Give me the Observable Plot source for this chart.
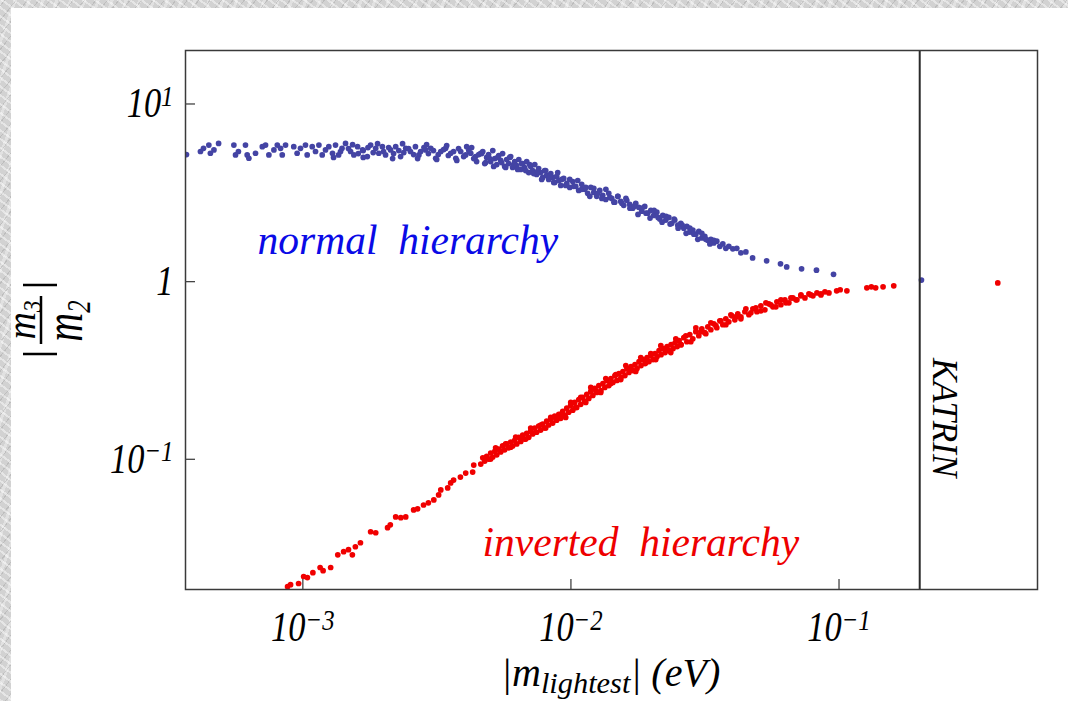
<!DOCTYPE html>
<html><head><meta charset="utf-8">
<script src="https://cdn.jsdelivr.net/npm/d3@7"></script>
<script src="https://cdn.jsdelivr.net/npm/@observablehq/plot@0.6"></script>
<style>
html,body{margin:0;padding:0;width:1068px;height:701px;overflow:hidden;}
body{background-color:#d2d2d2;
 background-image:
  repeating-linear-gradient(37deg, rgba(255,255,255,0.45) 0 2px, rgba(255,255,255,0) 2px 7px),
  repeating-linear-gradient(-52deg, rgba(150,150,150,0.35) 0 1px, rgba(0,0,0,0) 1px 9px),
  repeating-linear-gradient(110deg, rgba(240,240,240,0.5) 0 3px, rgba(0,0,0,0) 3px 13px);}
#panel{position:absolute;left:11px;top:8px;width:1057px;height:693px;background:#fff;overflow:hidden;}
#panel svg{position:absolute;left:-11px;top:-8px;max-width:none !important;width:1068px;height:701px;}
svg text{white-space:pre;}
</style></head>
<body><div id="panel"></div>
<script>
// ---- data: [|m_lightest| (eV), |m3/m2|] ----
const normalHierarchy = [
[3.68e-4,5.19],
[4.15e-4,5.40],[4.26e-4,5.63],[4.46e-4,5.87],[4.52e-4,5.28],[4.66e-4,5.51],[4.85e-4,6.00],
[5.53e-4,5.87],[5.61e-4,5.17],[5.75e-4,5.40],[6.11e-4,5.87],[6.20e-4,5.17],[6.29e-4,4.95],
[6.66e-4,5.28],[7.06e-4,5.75],[7.26e-4,5.87],[7.47e-4,5.17],[7.80e-4,5.51],[8.03e-4,5.87],
[8.26e-4,5.63],[8.38e-4,5.17],[8.62e-4,5.87],[9.25e-4,5.75],[9.52e-4,5.28],[9.80e-4,5.63],
[1.023e-3,5.87],[1.038e-3,5.17],[1.084e-3,5.75],[1.115e-3,5.40],[1.148e-3,5.87],[1.181e-3,5.17],
[1.215e-3,5.51],[1.25e-3,5.75],[1.29e-3,5.28],[1.324e-3,5.87],[1.36e-3,5.17],[1.40e-3,5.63],
[1.443e-3,6.00],[1.507e-3,5.40],[1.55e-3,5.17],[1.60e-3,5.75],[1.67e-3,5.51],[1.74e-3,5.06],
[1.79e-3,5.87],[1.87e-3,5.63],[1.92e-3,5.28],[1.98e-3,5.75],[2.035e-3,5.17],[2.125e-3,5.51],
[2.22e-3,5.75],[2.315e-3,5.06],[2.42e-3,5.63],[2.52e-3,5.40],[2.63e-3,5.75],[2.71e-3,5.17],
[2.87e-3,5.51],[3.00e-3,5.63],[3.13e-3,4.95],[3.27e-3,5.40],[3.41e-3,5.63],[3.56e-3,5.28],
[3.72e-3,4.95],[3.88e-3,5.40],[4.05e-3,5.17],[4.23e-3,5.28],[4.41e-3,5.06],[4.61e-3,5.28],
[1.382e-3,5.40],[1.48e-3,5.61],[1.61e-3,5.26],[1.68e-3,5.47],[1.75e-3,5.68],[1.83e-3,5.33],
[2.00e-3,5.40],[2.09e-3,5.68],[2.18e-3,5.26],[2.28e-3,5.47],[2.38e-3,5.33],[2.48e-3,5.61],
[2.59e-3,5.19],[2.75e-3,5.40],[2.83e-3,5.68],[2.94e-3,5.26],[3.07e-3,5.47],[3.20e-3,5.19],
[3.35e-3,5.54],[3.49e-3,5.13],[3.65e-3,5.40],[3.81e-3,5.61],[3.98e-3,5.06],[4.16e-3,5.47],
[4.34e-3,4.93],[4.53e-3,5.19],
[1.302e-3,5.00],[1.533e-3,5.90],[1.68e-3,5.00],[1.900e-3,5.98],[2.162e-3,4.93],[2.355e-3,5.98],
[2.68e-3,4.93],[2.895e-3,5.90],[3.157e-3,4.87],[3.44e-3,5.83],[3.752e-3,4.81],[4.085e-3,5.75],
[4.448e-3,4.74],[4.262e-3,5.68],
[4.69e-3,5.40],[4.77e-3,4.62],[4.85e-3,5.00],[4.93e-3,5.19],[5.02e-3,4.74],[5.11e-3,5.47],
[5.20e-3,4.93],[5.29e-3,4.56],[5.38e-3,5.13],[5.47e-3,4.81],[5.56e-3,5.26],[5.66e-3,4.45],
[5.76e-3,4.87],[5.86e-3,4.62],[5.96e-3,5.06],[6.06e-3,4.39],[6.17e-3,4.74],[6.28e-3,4.50],
[6.39e-3,4.87],[6.50e-3,4.28],[6.61e-3,4.62],[6.72e-3,4.39],[6.84e-3,4.74],[6.96e-3,4.11],
[7.08e-3,4.45],[7.20e-3,4.22],[7.33e-3,4.56],[7.45e-3,4.01],[7.58e-3,4.33],[7.71e-3,4.11],
[7.85e-3,3.86],[7.98e-3,4.22],[8.12e-3,3.96],[8.26e-3,3.76],[8.41e-3,4.06],[8.55e-3,3.86],
[8.70e-3,3.62],[8.85e-3,3.91],[9.01e-3,3.71],[9.16e-3,3.48],[9.40e-3,3.81],[9.65e-3,3.57],
[9.90e-3,3.39],[1.016e-2,3.66],[1.042e-2,3.44],[1.069e-2,3.26],[1.097e-2,3.53],[1.126e-2,3.31],
[1.155e-2,3.14],[1.186e-2,3.39],[1.217e-2,3.18],[1.248e-2,3.02],[1.281e-2,3.26],[1.314e-2,3.06],
[1.349e-2,2.90],[1.384e-2,3.14],[1.420e-2,2.94],[1.457e-2,2.80],[1.495e-2,3.02],[1.534e-2,2.83],
[1.574e-2,2.69],[1.615e-2,2.87],[1.657e-2,2.72],[1.700e-2,2.59],[1.745e-2,2.76],[1.790e-2,2.62],
[1.837e-2,2.49],[1.885e-2,2.65],[1.934e-2,2.43],[1.986e-2,2.52],[2.037e-2,2.36],[2.091e-2,2.46],
[2.145e-2,2.25],[2.201e-2,2.36],[2.259e-2,2.22],[2.318e-2,2.30],[2.378e-2,2.13],[2.440e-2,2.22],
[2.504e-2,2.08],[2.570e-2,2.13],[2.637e-2,2.00],[2.706e-2,2.05],[2.776e-2,1.90],[2.849e-2,1.95],
[2.923e-2,1.85],[2.999e-2,1.92],[3.078e-2,1.76],[3.158e-2,1.80],[3.240e-2,1.71],[3.326e-2,1.73],
[3.412e-2,1.65],[3.501e-2,1.69],[3.593e-2,1.58],[3.686e-2,1.63],[3.783e-2,1.54],[3.881e-2,1.58],
[4.016e-2,1.53],[4.156e-2,1.54],[4.305e-2,1.45],[4.493e-2,1.47],
[4.645e-3,5.26],[4.807e-3,4.68],[4.977e-3,4.93],[5.150e-3,4.45],[5.331e-3,5.00],[5.516e-3,4.68],
[5.710e-3,4.39],[5.910e-3,5.00],[6.116e-3,4.56],[6.330e-3,4.28],[6.551e-3,4.62],[6.781e-3,4.22],
[7.018e-3,4.56],[7.263e-3,4.06],[7.518e-3,4.17],[7.780e-3,3.76],[8.053e-3,4.22],[8.335e-3,3.91],
[8.626e-3,3.62],[8.928e-3,4.11],[9.239e-3,3.76],[9.564e-3,3.48],[9.898e-3,3.76],[1.0245e-2,3.44],
[1.0604e-2,3.71],[1.0976e-2,3.31],[1.1361e-2,3.39],[1.1760e-2,3.02],[1.2172e-2,3.35],[1.260e-2,3.14],
[1.3042e-2,2.94],[1.350e-2,3.31],[1.3974e-2,2.98],[1.4464e-2,2.80],[1.4968e-2,3.02],[1.5493e-2,2.76],
[1.6037e-2,2.94],[1.660e-2,2.59],[1.7187e-2,2.65],[1.7792e-2,2.39],[1.8418e-2,2.59],[1.9063e-2,2.43],
[1.9729e-2,2.28],[2.0425e-2,2.52],[2.114e-2,2.30],[2.188e-2,2.16],[2.264e-2,2.33],[2.344e-2,2.11],
[2.426e-2,2.25],[2.511e-2,2.00],[2.599e-2,2.08],[2.690e-2,1.87],[2.776e-2,2.00],[2.874e-2,1.85],
[2.973e-2,1.73],[3.078e-2,1.87],[3.185e-2,1.73],[3.298e-2,1.63],[3.412e-2,1.71],
[4.76e-2,1.36],[5.37e-2,1.31],[6.05e-2,1.26],[6.38e-2,1.21],[7.25e-2,1.18],[8.24e-2,1.16],
[9.54e-2,1.10],[0.203,1.02]
];

const invertedHierarchy = [
[8.77e-4,0.0192],[9.00e-4,0.0197],[9.64e-4,0.0200],[1.007e-3,0.0219],[1.04e-3,0.0216],[1.09e-3,0.0230],
[1.16e-3,0.0246],[1.19e-3,0.0236],[1.27e-3,0.0246],[1.35e-3,0.0290],[1.42e-3,0.0302],[1.48e-3,0.0310],
[1.53e-3,0.0290],[1.57e-3,0.0322],[1.64e-3,0.0339],[1.79e-3,0.0391],[1.87e-3,0.0386],[2.07e-3,0.0412],
[2.12e-3,0.0428],[2.22e-3,0.0474],[2.32e-3,0.0469],[2.42e-3,0.0474],[2.59e-3,0.0519],[2.68e-3,0.0526],
[2.82e-3,0.0553],[2.94e-3,0.0569],[3.08e-3,0.0591],[3.21e-3,0.0630],[3.27e-3,0.0672],[3.47e-3,0.0690],
[3.56e-3,0.0736],[3.65e-3,0.0764],[3.87e-3,0.0794],[4.05e-3,0.0837],[4.30e-3,0.0848],[4.34e-3,0.0928],
[4.61e-3,0.0940],[4.69e-3,0.102],[4.77e-3,0.0977],[4.85e-3,0.104],[4.93e-3,0.1003],[5.02e-3,0.1085],
[5.11e-3,0.103],[5.20e-3,0.111],[5.29e-3,0.106],[5.38e-3,0.114],[5.47e-3,0.110],[5.56e-3,0.119],
[5.66e-3,0.113],[5.76e-3,0.122],[5.86e-3,0.116],[5.96e-3,0.125],[6.06e-3,0.119],[6.17e-3,0.128],
[6.28e-3,0.122],[6.39e-3,0.133],[6.50e-3,0.126],[6.61e-3,0.137],[6.72e-3,0.130],[6.84e-3,0.140],
[6.96e-3,0.133],[7.08e-3,0.144],[7.20e-3,0.139],[7.33e-3,0.150],[7.45e-3,0.142],[7.58e-3,0.154],
[7.71e-3,0.146],[7.85e-3,0.158],[7.98e-3,0.150],[8.12e-3,0.164],[8.26e-3,0.156],[8.41e-3,0.168],
[8.55e-3,0.160],[8.70e-3,0.175],[8.85e-3,0.166],[9.01e-3,0.179],[9.16e-3,0.170],[9.32e-3,0.186],
[9.48e-3,0.177],[9.65e-3,0.194],[9.81e-3,0.184],[9.98e-3,0.201],[1.016e-2,0.189],[1.033e-2,0.209],
[1.051e-2,0.196],[1.070e-2,0.217],[1.088e-2,0.204],[1.107e-2,0.223],[1.126e-2,0.212],[1.146e-2,0.232],
[1.166e-2,0.220],[1.186e-2,0.241],[1.207e-2,0.229],[1.228e-2,0.251],[1.249e-2,0.238],[1.271e-2,0.260],
[1.293e-2,0.244],[1.316e-2,0.267],[1.338e-2,0.254],[1.362e-2,0.278],[1.385e-2,0.260],[1.410e-2,0.285],
[1.434e-2,0.271],[1.459e-2,0.296],[1.484e-2,0.278],[1.510e-2,0.304],[1.536e-2,0.289],[1.563e-2,0.312],
[1.590e-2,0.296],[1.618e-2,0.324],[1.646e-2,0.308],[1.675e-2,0.333],[1.704e-2,0.316],[1.734e-2,0.341],
[1.764e-2,0.324],[1.795e-2,0.355],[1.826e-2,0.337],[1.858e-2,0.364],[1.890e-2,0.346],[1.923e-2,0.374],
[1.956e-2,0.355],[1.990e-2,0.383],[2.025e-2,0.364],[2.060e-2,0.394],[2.096e-2,0.379],[2.132e-2,0.409],
[2.169e-2,0.388],[2.207e-2,0.420],[2.245e-2,0.399],[2.284e-2,0.431],[2.324e-2,0.409],[2.364e-2,0.442],
[2.405e-2,0.420],[2.447e-2,0.453],[2.490e-2,0.431],[2.533e-2,0.465],[2.577e-2,0.442],[2.637e-2,0.484],
[2.706e-2,0.459],[2.776e-2,0.503],[2.849e-2,0.477],[2.923e-2,0.523],[2.999e-2,0.496],[3.078e-2,0.543],
[3.158e-2,0.516],[3.240e-2,0.557],[3.326e-2,0.536],[3.412e-2,0.579],[3.501e-2,0.550],[3.593e-2,0.602],
[3.686e-2,0.572],[3.783e-2,0.618],[3.881e-2,0.594],[3.983e-2,0.642],[4.087e-2,0.610],[4.193e-2,0.659],
[4.305e-2,0.634],[4.455e-2,0.677],[4.611e-2,0.651],[4.772e-2,0.703],[4.939e-2,0.677],[5.112e-2,0.731],
[5.290e-2,0.694],[5.475e-2,0.750],[5.667e-2,0.722],[5.865e-2,0.770],[6.071e-2,0.741],[6.283e-2,0.790],
[6.503e-2,0.760],[6.730e-2,0.810],[6.966e-2,0.790],[7.210e-2,0.832],[7.462e-2,0.810],[7.723e-2,0.853],
[7.993e-2,0.832],[8.273e-2,0.864],[8.563e-2,0.842],[8.862e-2,0.876],[9.172e-2,0.864],
[4.807e-3,0.102],[5.018e-3,0.1003],[5.238e-3,0.116],[5.469e-3,0.111],[5.709e-3,0.122],[5.960e-3,0.117],
[6.222e-3,0.1335],[6.495e-3,0.132],[6.780e-3,0.130],[7.078e-3,0.150],[7.389e-3,0.142],[7.713e-3,0.156],
[8.052e-3,0.150],[8.406e-3,0.172],[8.775e-3,0.170],
[9.160e-3,0.179],[9.562e-3,0.172],[9.983e-3,0.209],[1.042e-2,0.196],[1.088e-2,0.223],[1.136e-2,0.209],
[1.186e-2,0.254],[1.238e-2,0.244],[1.292e-2,0.238],[1.349e-2,0.285],[1.408e-2,0.267],[1.470e-2,0.300],
[1.534e-2,0.281],[1.602e-2,0.337],[1.672e-2,0.324],[1.745e-2,0.312],[1.822e-2,0.374],[1.902e-2,0.350],
[1.986e-2,0.394],[2.073e-2,0.364],[2.164e-2,0.436],[2.259e-2,0.420],[2.358e-2,0.399],[2.462e-2,0.477],
[2.570e-2,0.442],[2.683e-2,0.496],[2.801e-2,0.459],[2.924e-2,0.550],[3.052e-2,0.523],[3.186e-2,0.509],
[3.326e-2,0.587],[3.472e-2,0.565],[3.625e-2,0.602],[3.784e-2,0.572],[3.950e-2,0.651],[4.124e-2,0.634],
[4.305e-2,0.618],[4.494e-2,0.703],[4.691e-2,0.668],[4.897e-2,0.712],[5.112e-2,0.685],[5.337e-2,0.760],
[5.571e-2,0.741],[5.816e-2,0.722],[6.071e-2,0.790],[6.338e-2,0.760],[6.616e-2,0.810],[6.907e-2,0.790],
[7.210e-2,0.842],[7.857e-2,0.842],[8.563e-2,0.853],
[9.80e-2,0.888],[0.101,0.900],[0.107,0.888],[0.127,0.923],[0.132,0.935],[0.137,0.923],
[0.146,0.935],[0.160,0.947],[0.391,0.984]
];

const katrinLimit = [0.2];
const xTicks = [1e-3, 1e-2, 1e-1];
const xTickLabels = ["10^\u22123", "10^\u22122", "10^\u22121"];
const yTicks = [1e-1, 1, 10];
const yTickLabels = ["10^\u22121", "1", "10^1"];
const annotations = [
  {text: "normal  hierarchy", m: 6.78e-4, r: 1.437, color: "#0a0ae6"},
  {text: "inverted  hierarchy", m: 4.68e-3, r: 0.0287, color: "#ee0000"}
];
const katrinLabel = [{text: "KATRIN", m: 0.2, r: 0.1717}];

// ---- chart ----
const serif = "'Liberation Serif','Times New Roman',Times,serif";
const W = 1068, H = 701, mL = 185, mR = 31, mT = 50, mB = 112;
const plotW = W - mL - mR, plotH = H - mT - mB;

const chart = Plot.plot({
  width: W, height: H,
  marginLeft: mL, marginRight: mR, marginTop: mT, marginBottom: mB,
  x: {type: "log", domain: [3.65e-4, 0.55]},
  y: {type: "log", domain: [0.0185, 20]},
  style: {background: "transparent", fontFamily: serif, fontStyle: "italic", fontSize: "40px", overflow: "visible", color: "#000", maxWidth: "none"},
  marks: [
    Plot.dot(normalHierarchy, {x: d => d[0], y: d => d[1], r: 2.85, fill: "#4444a4", clip: true}),
    Plot.dot(invertedHierarchy, {x: d => d[0], y: d => d[1], r: 2.85, fill: "#f00000", clip: true}),
    Plot.ruleX(katrinLimit, {stroke: "#2a2a2a", strokeWidth: 2}),
    Plot.frame({stroke: "#3a3a3a", strokeWidth: 1.5}),
    Plot.tickX(xTicks, {x: d => d, insetTop: plotH - 10, stroke: "#444", strokeWidth: 1.3}),
    Plot.tickY(yTicks, {y: d => d, insetRight: plotW - 10, stroke: "#444", strokeWidth: 1.3}),
    Plot.axisX(xTicks, {tickSize: 0, tickPadding: 22, label: null, fontSize: 40, fill: "#000",
      tickFormat: d => xTickLabels[xTicks.indexOf(d)]}),
    Plot.axisY(yTicks, {tickSize: 0, tickPadding: 12, label: null, fontSize: 40, fill: "#000",
      tickFormat: d => yTickLabels[yTicks.indexOf(d)]}),
    Plot.text(annotations, {x: "m", y: "r", text: "text", fill: "color", textAnchor: "start", lineAnchor: "bottom", fontSize: 41.5, fontStyle: "italic"}),
    Plot.text(katrinLabel, {x: "m", y: "r", text: "text", rotate: 90, dx: 13, textAnchor: "middle", lineAnchor: "bottom", fontSize: 35, fill: "#000"})
  ]
});
document.getElementById("panel").appendChild(chart);

const svg = d3.select(chart);
// superscripts on tick labels
svg.selectAll('g[aria-label="x-axis tick label"] text, g[aria-label="y-axis tick label"] text').each(function() {
  const t = d3.select(this);
  const s = t.text();
  const parts = s.split("^");
  t.text(null);
  t.append("tspan").text(parts[0]);
  if (parts[1]) t.append("tspan").attr("dy", "-0.38em").attr("font-size", "0.72em").text(parts[1]);
  const tr = t.attr("transform");
  if (tr) t.attr("transform", tr + " scale(0.86,1.05)");
});

// y-axis label  |m3/m2|  (rotated)
const yl = svg.append("g").attr("transform", "translate(41,320) rotate(-90)")
  .attr("font-family", serif).attr("font-style", "italic").attr("fill", "#000");
yl.append("line").attr("x1", -24).attr("x2", 24).attr("y1", 0).attr("y2", 0).attr("stroke", "#000").attr("stroke-width", 2.5);
yl.append("line").attr("x1", -34).attr("x2", -34).attr("y1", -18).attr("y2", 16).attr("stroke", "#000").attr("stroke-width", 2.5);
yl.append("line").attr("x1", 35).attr("x2", 35).attr("y1", -18).attr("y2", 16).attr("stroke", "#000").attr("stroke-width", 2.5);
const num = yl.append("text").attr("text-anchor", "middle").attr("font-size", 38).attr("transform", "translate(0,-6) scale(1,1.1)");
num.append("tspan").text("m");
num.append("tspan").attr("dy", "0.25em").attr("font-size", "0.62em").text("3");
const den = yl.append("text").attr("text-anchor", "middle").attr("font-size", 40).attr("transform", "translate(-1,41) scale(1,1.35)");
den.append("tspan").text("m");
den.append("tspan").attr("dy", "0.25em").attr("font-size", "0.62em").text("2");

// x-axis label |m_lightest| (eV)
const xl = svg.append("text").attr("x", 501).attr("y", 686).attr("text-anchor", "start")
  .attr("font-family", serif).attr("font-style", "italic").attr("font-size", 40).attr("fill", "#000");
xl.append("tspan").text("|m");
xl.append("tspan").attr("dy", "0.24em").attr("font-size", "0.76em").text("lightest");
xl.append("tspan").attr("dy", "-0.18em").text("| (eV)");
</script>
</body></html>
